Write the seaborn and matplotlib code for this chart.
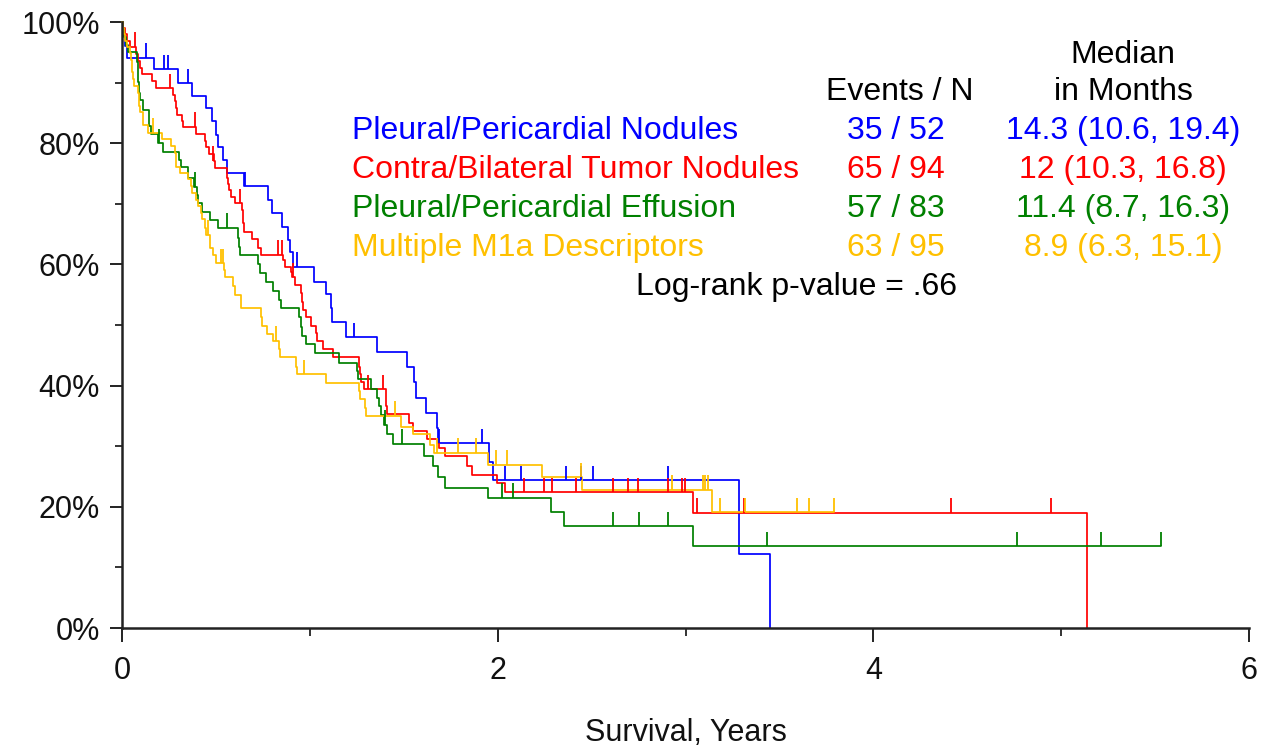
import numpy as np
import pandas as pd
import matplotlib
matplotlib.use("Agg")
import matplotlib.pyplot as plt
import seaborn as sns

# ---- Kaplan-Meier estimates (time in years, survival in %) ----
groups = ["Pleural/Pericardial Nodules", "Contra/Bilateral Tumor Nodules",
          "Pleural/Pericardial Effusion", "Multiple M1a Descriptors"]
colors = ["#0000FF", "#FF0000", "#008000", "#FFC000"]
events_n = ["35 / 52", "65 / 94", "57 / 83", "63 / 95"]
medians = ["14.3 (10.6, 19.4)", "12 (10.3, 16.8)", "11.4 (8.7, 16.3)", "8.9 (6.3, 15.1)"]

nod_t = [0.005, 0.016, 0.027, 0.170, 0.298, 0.373, 0.447, 0.479, 0.501, 0.511,
         0.538, 0.559, 0.650, 0.777, 0.799, 0.852, 0.884, 0.895, 0.911, 1.022,
         1.086, 1.113, 1.118, 1.193, 1.358, 1.518, 1.555, 1.565, 1.619, 1.677,
         1.683, 1.954, 1.975, 3.285, 3.450]
nod_s = [98.0, 96.0, 94.1, 92.2, 89.9, 87.8, 85.8, 83.7, 81.4, 79.4,
         77.2, 75.1, 72.9, 70.6, 68.5, 66.2, 64.0, 62.0, 59.6, 57.1,
         55.1, 52.8, 50.5, 48.0, 45.5, 43.1, 40.6, 38.0, 35.5, 33.0,
         30.5, 27.4, 24.4, 12.2, 0.0]
nod_cens_t = [0.128, 0.224, 0.245, 0.351, 0.655, 0.932, 1.235, 1.688, 1.917,
              2.039, 2.125, 2.364, 2.444, 2.508, 2.907]
nod_cens_s = [94.1, 92.2, 92.2, 89.9, 72.9, 59.6, 48.0, 30.5, 30.5,
              24.4, 24.4, 24.4, 24.4, 24.4, 24.4]
nod_end = 3.450

con_t = [0.005, 0.016, 0.027, 0.043, 0.075, 0.085, 0.096, 0.106, 0.160, 0.181,
         0.272, 0.282, 0.288, 0.293, 0.319, 0.325, 0.394, 0.442, 0.447, 0.463,
         0.490, 0.495, 0.559, 0.564, 0.570, 0.580, 0.602, 0.639, 0.642, 0.644,
         0.650, 0.692, 0.724, 0.740, 0.857, 0.868, 0.900, 0.905, 0.921, 0.953,
         0.958, 0.964, 0.980, 1.006, 1.033, 1.038, 1.070, 1.124, 1.262, 1.267,
         1.273, 1.289, 1.406, 1.408, 1.411, 1.528, 1.550, 1.624, 1.688, 1.720,
         1.837, 1.864, 1.997, 2.039, 3.040, 5.138]
con_s = [99.0, 98.0, 96.9, 95.9, 94.7, 93.6, 92.4, 91.4, 90.3, 89.1,
         88.0, 87.0, 85.8, 84.7, 83.7, 82.7, 81.5, 80.4, 79.4, 78.2,
         77.1, 75.9, 74.3, 73.3, 72.3, 71.1, 70.1, 69.0, 68.0, 66.8,
         65.3, 64.2, 62.7, 61.6, 60.7, 59.6, 58.7, 57.9, 56.6, 55.3,
         53.8, 52.5, 51.3, 49.8, 48.7, 47.4, 46.0, 44.7, 43.1, 41.9,
         40.6, 39.4, 38.1, 36.6, 35.3, 33.8, 32.5, 31.2, 29.7, 28.4,
         26.7, 25.2, 23.9, 22.4, 19.0, 0.0]
con_cens_t = [0.069, 0.256, 0.389, 0.485, 0.628, 0.831, 0.852, 0.911, 1.310, 1.390,
              2.141, 2.247, 2.290, 2.417, 2.614, 2.694, 2.748, 2.907, 2.982, 2.998,
              3.062, 3.312, 4.414, 4.947]
con_cens_s = [95.9, 89.1, 82.7, 77.1, 70.1, 61.6, 61.6, 57.9, 39.4, 39.4,
              22.4, 22.4, 22.4, 22.4, 22.4, 22.4, 22.4, 22.4, 22.4, 22.4,
              19.0, 19.0, 19.0, 19.0]
con_end = 5.138

eff_t = [0.005, 0.011, 0.021, 0.032, 0.080, 0.083, 0.085, 0.091, 0.096, 0.112,
         0.144, 0.146, 0.154, 0.192, 0.218, 0.304, 0.314, 0.351, 0.383, 0.399,
         0.405, 0.426, 0.469, 0.511, 0.618, 0.623, 0.628, 0.724, 0.735, 0.767,
         0.804, 0.836, 0.847, 0.942, 0.953, 0.958, 0.980, 1.028, 1.155, 1.251,
         1.257, 1.326, 1.358, 1.368, 1.379, 1.395, 1.411, 1.443, 1.608, 1.656,
         1.683, 1.720, 1.949, 2.284, 2.354, 3.040]
eff_s = [98.7, 97.5, 96.2, 95.0, 93.4, 91.7, 90.1, 88.3, 87.1, 85.5,
         84.2, 82.8, 81.5, 80.0, 78.5, 77.2, 76.1, 74.3, 72.8, 71.5,
         70.1, 68.6, 67.3, 66.0, 64.4, 62.9, 61.6, 60.1, 58.6, 57.1,
         55.6, 54.1, 52.8, 51.3, 49.7, 48.2, 46.9, 45.4, 43.7, 42.4,
         41.1, 39.4, 38.0, 36.6, 35.1, 33.5, 32.0, 30.4, 28.4, 26.7,
         24.9, 23.1, 21.5, 19.1, 16.8, 13.5]
eff_cens_t = [0.197, 0.389, 0.559, 1.400, 1.491, 2.023, 2.082, 2.614, 2.753, 2.907,
              3.435, 4.766, 5.213, 5.532]
eff_cens_s = [80.0, 72.8, 66.0, 33.5, 30.4, 21.5, 21.5, 16.8, 16.8, 16.8,
              13.5, 13.5, 13.5, 13.5]
eff_end = 5.532

mul_t = [0.005, 0.011, 0.016, 0.027, 0.043, 0.048, 0.051, 0.053, 0.059, 0.064,
         0.085, 0.088, 0.091, 0.096, 0.112, 0.114, 0.138, 0.213, 0.261, 0.282,
         0.285, 0.288, 0.309, 0.351, 0.367, 0.373, 0.394, 0.405, 0.421, 0.426,
         0.442, 0.447, 0.469, 0.471, 0.485, 0.501, 0.543, 0.548, 0.591, 0.602,
         0.634, 0.636, 0.740, 0.745, 0.772, 0.804, 0.836, 0.839, 0.927, 0.932,
         1.086, 1.262, 1.265, 1.294, 1.299, 1.486, 1.550, 1.640, 1.661, 1.949,
         2.236, 2.449, 3.142]
mul_s = [99.0, 98.0, 96.9, 95.9, 94.9, 93.7, 92.7, 91.7, 90.6, 89.4,
         88.3, 87.1, 86.1, 85.1, 84.2, 83.0, 81.7, 80.7, 79.5, 78.4,
         77.2, 76.1, 75.1, 74.1, 72.9, 71.8, 70.6, 69.6, 68.5, 67.5,
         66.0, 64.9, 63.7, 62.7, 61.6, 60.2, 59.1, 57.9, 56.4, 55.0,
         53.8, 52.8, 51.3, 49.8, 48.5, 47.4, 46.0, 44.7, 43.1, 41.9,
         40.4, 39.1, 37.8, 36.3, 35.0, 33.2, 32.0, 30.2, 28.9, 26.9,
         24.9, 22.8, 19.1]
mul_cens_t = [0.165, 0.458, 0.527, 0.538, 0.820, 0.969, 1.454, 1.677, 1.789, 1.885,
              1.991, 2.050, 2.444, 2.929, 3.094, 3.104, 3.120, 3.184, 3.317, 3.594,
              3.658, 3.791]
mul_cens_s = [81.7, 64.9, 60.2, 60.2, 47.4, 41.9, 35.0, 28.9, 28.9, 28.9,
              26.9, 26.9, 24.9, 22.8, 22.8, 22.8, 22.8, 19.1, 19.1, 19.1,
              19.1, 19.1]
mul_end = 3.791

curves = [
    (nod_t, nod_s, nod_cens_t, nod_cens_s, nod_end),
    (con_t, con_s, con_cens_t, con_cens_s, con_end),
    (eff_t, eff_s, eff_cens_t, eff_cens_s, eff_end),
    (mul_t, mul_s, mul_cens_t, mul_cens_s, mul_end),
]

# ---- long-form step data ----
rows = []
for name, (t, s, _, _, end) in zip(groups, curves):
    tt = [0.0] + list(t)
    ss = [100.0] + list(s)
    if end > tt[-1]:
        tt.append(end)
        ss.append(ss[-1])
    rows += [{"group": name, "t": a, "s": b} for a, b in zip(tt, ss)]
df = pd.DataFrame(rows)

sns.set_theme(style="ticks")
plt.rcParams["font.family"] = ["Liberation Sans", "DejaVu Sans"]

fig = plt.figure(figsize=(12.63, 7.48), dpi=100)
ax = fig.add_axes([122 / 1263, 1 - 628 / 748, 1127 / 1263, 606 / 748])

sns.lineplot(data=df, x="t", y="s", hue="group", hue_order=groups,
             palette=colors, estimator=None, sort=False, drawstyle="steps-post",
             linewidth=1.25, legend=False, ax=ax, clip_on=False)

tick_h = 2.4
for (t, s, ct, cs, end), col in zip(curves, colors):
    ax.vlines(ct, cs, np.array(cs) + tick_h, colors=col, linewidth=1.3)

ax.set_xlim(0, 6)
ax.set_ylim(0, 100)
ax.set_xticks([0, 2, 4, 6])
ax.set_xticks([1, 3, 5], minor=True)
ax.set_yticks([0, 20, 40, 60, 80, 100])
ax.set_yticklabels(["0%", "20%", "40%", "60%", "80%", "100%"])
ax.set_yticks([10, 30, 50, 70, 90], minor=True)

ax.tick_params(axis="both", which="major", labelsize=22, colors="#111111",
               width=1.3, direction="out")
ax.tick_params(axis="x", which="major", length=10, pad=10)
ax.tick_params(axis="x", which="minor", length=6, width=1.2, color="#111111")
ax.tick_params(axis="y", which="major", length=9, pad=7)
ax.tick_params(axis="y", which="minor", length=5, width=1.2, color="#111111")

for side in ["top", "right"]:
    ax.spines[side].set_visible(False)
for side in ["left", "bottom"]:
    ax.spines[side].set_linewidth(1.8)
    ax.spines[side].set_color("#222222")

ax.set_xlabel("Survival, Years", fontsize=22, labelpad=23, color="#111111")
ax.set_ylabel("")

# ---- annotation table ----
fs = 23
ax.text(4.14, 88.4, "Events / N", fontsize=fs, ha="center", va="center", color="black")
ax.text(5.33, 94.5, "Median", fontsize=fs, ha="center", va="center", color="black")
ax.text(5.33, 88.4, "in Months", fontsize=fs, ha="center", va="center", color="black")
row_y = [82.0, 75.6, 69.1, 62.7]
for name, col, en, med, y in zip(groups, colors, events_n, medians, row_y):
    ax.text(1.225, y, name, fontsize=fs, ha="left", va="center", color=col)
    ax.text(4.12, y, en, fontsize=fs, ha="center", va="center", color=col)
    ax.text(5.33, y, med, fontsize=fs, ha="center", va="center", color=col)
ax.text(3.589, 56.3, "Log-rank p-value = .66", fontsize=fs, ha="center",
        va="center", color="black")

fig.savefig("out.png", dpi=100, facecolor="white")
